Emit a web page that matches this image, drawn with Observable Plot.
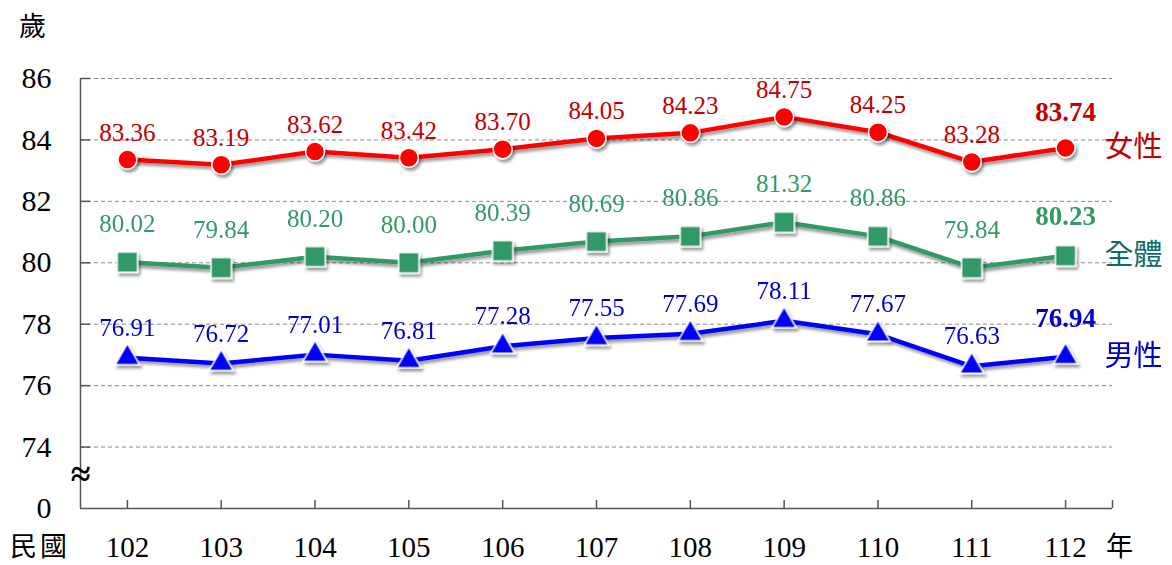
<!DOCTYPE html>
<html>
<head>
<meta charset="utf-8">
<script src="https://cdn.jsdelivr.net/npm/d3@7"></script>
<script src="https://cdn.jsdelivr.net/npm/@observablehq/plot@0.6"></script>
<style>
  html, body { margin:0; padding:0; background:#fff; }
  #wrap { position:relative; width:1172px; height:565px; font-family:"Liberation Serif","Noto Sans CJK TC",serif; }
  .lab { position:absolute; font-size:27px; color:#000; line-height:1; white-space:nowrap; }
  #chart svg text { font-family:"Liberation Serif","Noto Sans CJK TC",serif; }
</style>
</head>
<body>
<div id="wrap">
  <div id="chart"></div>
  <div class="lab" style="left:19px; top:14px;">歲</div>
  <div class="lab" style="left:10px; top:534px; letter-spacing:3px;">民國</div>
  <div class="lab" style="left:1106px; top:534px;">年</div>
</div>
<script>
const years = [102, 103, 104, 105, 106, 107, 108, 109, 110, 111, 112];
const female = [83.36, 83.19, 83.62, 83.42, 83.70, 84.05, 84.23, 84.75, 84.25, 83.28, 83.74];
const total  = [80.02, 79.84, 80.20, 80.00, 80.39, 80.69, 80.86, 81.32, 80.86, 79.84, 80.23];
const male   = [76.91, 76.72, 77.01, 76.81, 77.28, 77.55, 77.69, 78.11, 77.67, 76.63, 76.94];
const seriesNames = ["女性", "全體", "男性"];
const yTicks = [74, 76, 78, 80, 82, 84, 86];
const yBase = 72;          // broken axis: bottom of the axis is labelled "0"
const yBaseLabel = "0";
const breakMark = [73.1];  // where the "≈" axis-break sign sits

const xDomain = [years[0] - 0.5, years[years.length - 1] + 0.5];

const toRows = (vals, name) => years.map((yr, i) => ({year: yr, value: vals[i], series: name, last: i === years.length - 1}));
const fRows = toRows(female, seriesNames[0]);
const tRows = toRows(total, seriesNames[1]);
const mRows = toRows(male, seriesNames[2]);

const F = "Liberation Serif, 'Noto Sans CJK TC', serif";

const seriesDefs = [
  {rows: fRows, line: "#FF0000", label: "#C00000", name: "#C00000", symbol: "circle", r: 9.5, dy: -27, dyLast: -36},
  {rows: tRows, line: "#339966", label: "#339966", name: "#0E6B6B", symbol: "square", r: 11.5, dy: -38, dyLast: -39},
  {rows: mRows, line: "#0000FF", label: "#0000CC", name: "#0000CC", symbol: "triangle", r: 9, dy: -30, dyLast: -38}
];

const marks = [
  Plot.gridY(yTicks, {stroke: "#8a8a8a", strokeOpacity: 1, strokeDasharray: "4,3", strokeWidth: 1}),
  Plot.ruleX([xDomain[0]], {stroke: "#555", strokeWidth: 1.5}),
  Plot.ruleY([yBase], {stroke: "#555", strokeWidth: 1.5}),
  Plot.axisY(yTicks, {tickSize: 10, dx: 10, tickFormat: () => "", label: null, stroke: "#555", strokeWidth: 1.5}),
  Plot.axisY([yBase, ...yTicks], {tickSize: 0, tickPadding: 29, fontSize: 30, fontFamily: F, label: null, tickFormat: d => d === yBase ? yBaseLabel : String(d)}),
  Plot.axisX([...years, xDomain[1]], {tickSize: 8, dy: -8, tickFormat: () => "", label: null, stroke: "#555", strokeWidth: 1.5}),
  Plot.axisX(years, {tickSize: 0, tickPadding: 28, fontSize: 29, fontFamily: F, label: null, tickFormat: d => String(d)}),
  Plot.text(breakMark, {y: d => d, frameAnchor: "left", textAnchor: "middle", text: () => "≈", fontSize: 36, fontWeight: "bold", fontFamily: F, fill: "#000"})
];

for (const s of seriesDefs) {
  marks.push(Plot.line(s.rows, {x: "year", y: "value", stroke: s.line, strokeWidth: 4.5}));
}
for (const s of seriesDefs) {
  marks.push(Plot.dot(s.rows, {x: "year", y: "value", symbol: s.symbol, r: s.r, fill: s.line, stroke: "white", strokeWidth: 1.5}));
  marks.push(Plot.text(s.rows.filter(d => !d.last), {x: "year", y: "value", text: d => d.value.toFixed(2), dy: s.dy, fill: s.label, fontSize: 25, fontFamily: F}));
  marks.push(Plot.text(s.rows.filter(d => d.last), {x: "year", y: "value", text: d => d.value.toFixed(2), dy: s.dyLast, fill: s.label, fontSize: 27, fontWeight: "bold", fontFamily: F}));
  marks.push(Plot.text(s.rows.filter(d => d.last), {x: "year", y: "value", text: "series", dx: 68, fill: s.name, fontSize: 29, fontFamily: F}));
}

const chart = Plot.plot({
  width: 1172,
  height: 565,
  marginLeft: 80,
  marginRight: 60,
  marginTop: 78,
  marginBottom: 57,
  x: {type: "linear", domain: xDomain, label: null, axis: null},
  y: {type: "linear", domain: [yBase, yTicks[yTicks.length - 1]], label: null, axis: null},
  style: {fontFamily: F, color: "#000", background: "white", overflow: "visible"},
  marks
});

// soft drop shadow under the lines and markers (SVG filter in user space)
const svg = d3.select(chart);
const defs = svg.insert("defs", ":first-child");
const flt = defs.append("filter").attr("id", "shadow")
  .attr("filterUnits", "userSpaceOnUse")
  .attr("x", 0).attr("y", 0).attr("width", 1172).attr("height", 565);
flt.append("feGaussianBlur").attr("in", "SourceAlpha").attr("stdDeviation", 1.5).attr("result", "b");
flt.append("feOffset").attr("in", "b").attr("dx", 2).attr("dy", 3).attr("result", "o");
flt.append("feComponentTransfer").attr("in", "o").attr("result", "s")
  .append("feFuncA").attr("type", "linear").attr("slope", 0.4);
const mg = flt.append("feMerge");
mg.append("feMergeNode").attr("in", "s");
mg.append("feMergeNode").attr("in", "SourceGraphic");
svg.selectAll("g[aria-label=line], g[aria-label=dot]").attr("filter", "url(#shadow)");

document.getElementById("chart").appendChild(chart);
</script>
</body>
</html>
